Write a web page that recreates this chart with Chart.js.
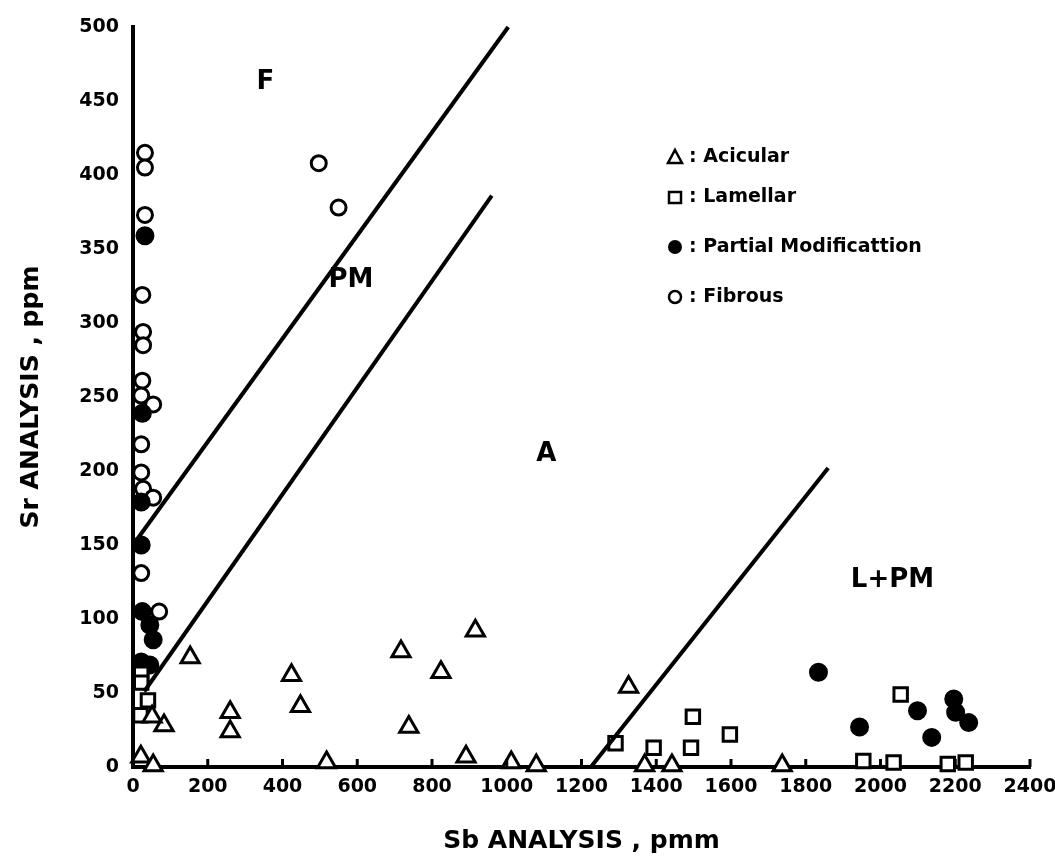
<!DOCTYPE html>
<html>
<head>
<meta charset="utf-8">
<script src="https://cdn.jsdelivr.net/npm/chart.js@4"></script>
<style>
  html, body { margin: 0; padding: 0; background: #fff; }
  #wrap { width: 1055px; height: 862px; }
</style>
</head>
<body>
<div id="wrap"><canvas id="grafico" width="1055" height="862"></canvas></div>
<script>
// Acicular (triangles) - Sb, Sr
const acicularX = [153, 424, 260, 260, 448, 717, 824, 738, 891, 1012, 1079, 518, 83, 51, 21, 54, 916, 1326, 1369, 1442, 1737];
const acicularY = [74, 62, 37, 24, 41, 78, 64, 27, 7, 3, 1, 3, 28, 34, 7, 1, 92, 54, 1, 1, 1];

// Lamellar (squares)
const lamellarX = [22, 22, 40, 20, 1291, 1393, 1498, 1493, 1597, 2054, 1954, 2035, 2180, 2228];
const lamellarY = [63, 57, 45, 35, 16, 13, 34, 13, 22, 49, 4, 3, 2, 3];

// Partial modification (filled circles)
const partialX = [32, 25, 22, 22, 25, 45, 54, 22, 45, 1834, 1944, 2099, 2137, 2196, 2201, 2236];
const partialY = [359, 239, 179, 150, 105, 96, 86, 71, 69, 64, 27, 38, 20, 46, 37, 30];

// Fibrous (open circles)
const fibrousX = [32, 32, 32, 25, 27, 27, 25, 22, 54, 22, 22, 27, 54, 22, 70, 497, 550];
const fibrousY = [415, 405, 373, 319, 294, 285, 261, 251, 245, 218, 199, 188, 182, 131, 105, 408, 378];

// Boundary lines
const lineFX = [0, 1004];
const lineFY = [150, 500];
const linePMX = [30, 960];
const linePMY = [51, 386];
const lineLX = [1225, 1860];
const lineLY = [0, 202];

// Region labels
const regionText = ["F", "PM", "A", "L+PM"];
const regionX = [354, 583, 1106, 2032];
const regionY = [463, 329, 211, 126];

const xTicks = [0, 200, 400, 600, 800, 1000, 1200, 1400, 1600, 1800, 2000, 2200, 2400];
const yTicks = [0, 50, 100, 150, 200, 250, 300, 350, 400, 450, 500];

const legendLabels = ["Acicular", "Lamellar", "Partial Modificattion", "Fibrous"];

const pts = (xs, ys) => xs.map((x, i) => ({ x: x, y: ys[i] }));

function puntos(label, xs, ys, style, radius, fill) {
  return {
    type: "scatter",
    label: label,
    data: pts(xs, ys),
    pointStyle: style,
    pointRadius: radius,
    pointBorderWidth: 3,
    pointBorderColor: "#000",
    pointBackgroundColor: fill ? "#000" : "#fff",
    clip: false
  };
}

function linea(xs, ys) {
  return {
    type: "line",
    data: pts(xs, ys),
    borderColor: "#000",
    borderWidth: 4,
    pointRadius: 0,
    clip: false
  };
}

// Etiquetas de zonas y leyenda dibujadas a mano
const extras = {
  id: "extras",
  afterDatasetsDraw(chart) {
    const c = chart.ctx;
    const sx = chart.scales.x, sy = chart.scales.y;
    c.save();
    c.fillStyle = "#000";
    c.textBaseline = "middle";
    c.textAlign = "center";
    c.font = "bold 26px 'DejaVu Sans', sans-serif";
    regionText.forEach((t, i) => {
      c.fillText(t, sx.getPixelForValue(regionX[i]), sy.getPixelForValue(regionY[i]));
    });

    // leyenda
    const lx = 675;
    const ly = [157, 197, 247, 297];
    c.lineWidth = 2.5;
    c.strokeStyle = "#000";
    // triangulo
    c.beginPath();
    c.moveTo(lx, ly[0] - 7); c.lineTo(lx + 7, ly[0] + 6); c.lineTo(lx - 7, ly[0] + 6); c.closePath(); c.stroke();
    // cuadrado
    c.strokeRect(lx - 6, ly[1] - 5, 12, 11);
    // circulo lleno
    c.beginPath(); c.arc(lx, ly[2], 7, 0, Math.PI * 2); c.fill();
    // circulo vacio
    c.beginPath(); c.arc(lx, ly[3], 6, 0, Math.PI * 2); c.stroke();

    c.textAlign = "left";
    c.font = "bold 19px 'DejaVu Sans', sans-serif";
    legendLabels.forEach((t, i) => {
      c.fillText(": " + t, lx + 14, ly[i]);
    });

    // marcas hacia dentro en el eje x
    c.lineWidth = 3;
    xTicks.forEach(v => {
      const px = sx.getPixelForValue(v);
      c.beginPath(); c.moveTo(px, sy.bottom); c.lineTo(px, sy.bottom - 8); c.stroke();
    });
    c.restore();
  }
};

const tickFont = { family: "'DejaVu Sans', sans-serif", size: 19, weight: "bold" };
const titleFont = { family: "'DejaVu Sans', sans-serif", size: 25, weight: "bold" };

const ctx = document.getElementById("grafico").getContext("2d");
new Chart(ctx, {
  data: {
    datasets: [
      linea(lineFX, lineFY),
      linea(linePMX, linePMY),
      linea(lineLX, lineLY),
      puntos("Acicular", acicularX, acicularY, "triangle", 10.5, false),
      puntos("Lamellar", lamellarX, lamellarY, "rect", 9.5, false),
      puntos("Partial Modificattion", partialX, partialY, "circle", 8, true),
      puntos("Fibrous", fibrousX, fibrousY, "circle", 7.5, false)
    ]
  },
  options: {
    responsive: false,
    animation: false,
    layout: { padding: { top: 27, right: 25, left: 0, bottom: 0 } },
    plugins: {
      legend: { display: false },
      tooltip: { enabled: false }
    },
    scales: {
      x: {
        type: "linear",
        min: 0,
        max: 2400,
        afterBuildTicks: s => { s.ticks = xTicks.map(v => ({ value: v })); },
        afterFit: s => { s.height = 95; s.paddingLeft = 0; s.paddingRight = 0; },
        grid: { display: false, drawTicks: false },
        border: { display: true, color: "#000", width: 4 },
        ticks: {
          color: "#000",
          padding: 9,
          maxRotation: 0,
          callback: v => String(v),
          font: tickFont
        },
        title: {
          display: true,
          text: "Sb ANALYSIS , pmm",
          color: "#000",
          padding: { top: 0, bottom: 6 },
          font: titleFont
        }
      },
      y: {
        type: "linear",
        min: 0,
        max: 500,
        afterBuildTicks: s => { s.ticks = yTicks.map(v => ({ value: v })); },
        afterFit: s => { s.width = 133; },
        grid: { display: false, drawTicks: false },
        border: { display: true, color: "#000", width: 4 },
        ticks: {
          color: "#000",
          padding: 14,
          callback: v => String(v),
          font: tickFont
        },
        title: {
          display: true,
          text: "Sr ANALYSIS , ppm",
          color: "#000",
          padding: { top: 16, bottom: 0 },
          font: titleFont
        }
      }
    }
  },
  plugins: [extras]
});
</script>
</body>
</html>
